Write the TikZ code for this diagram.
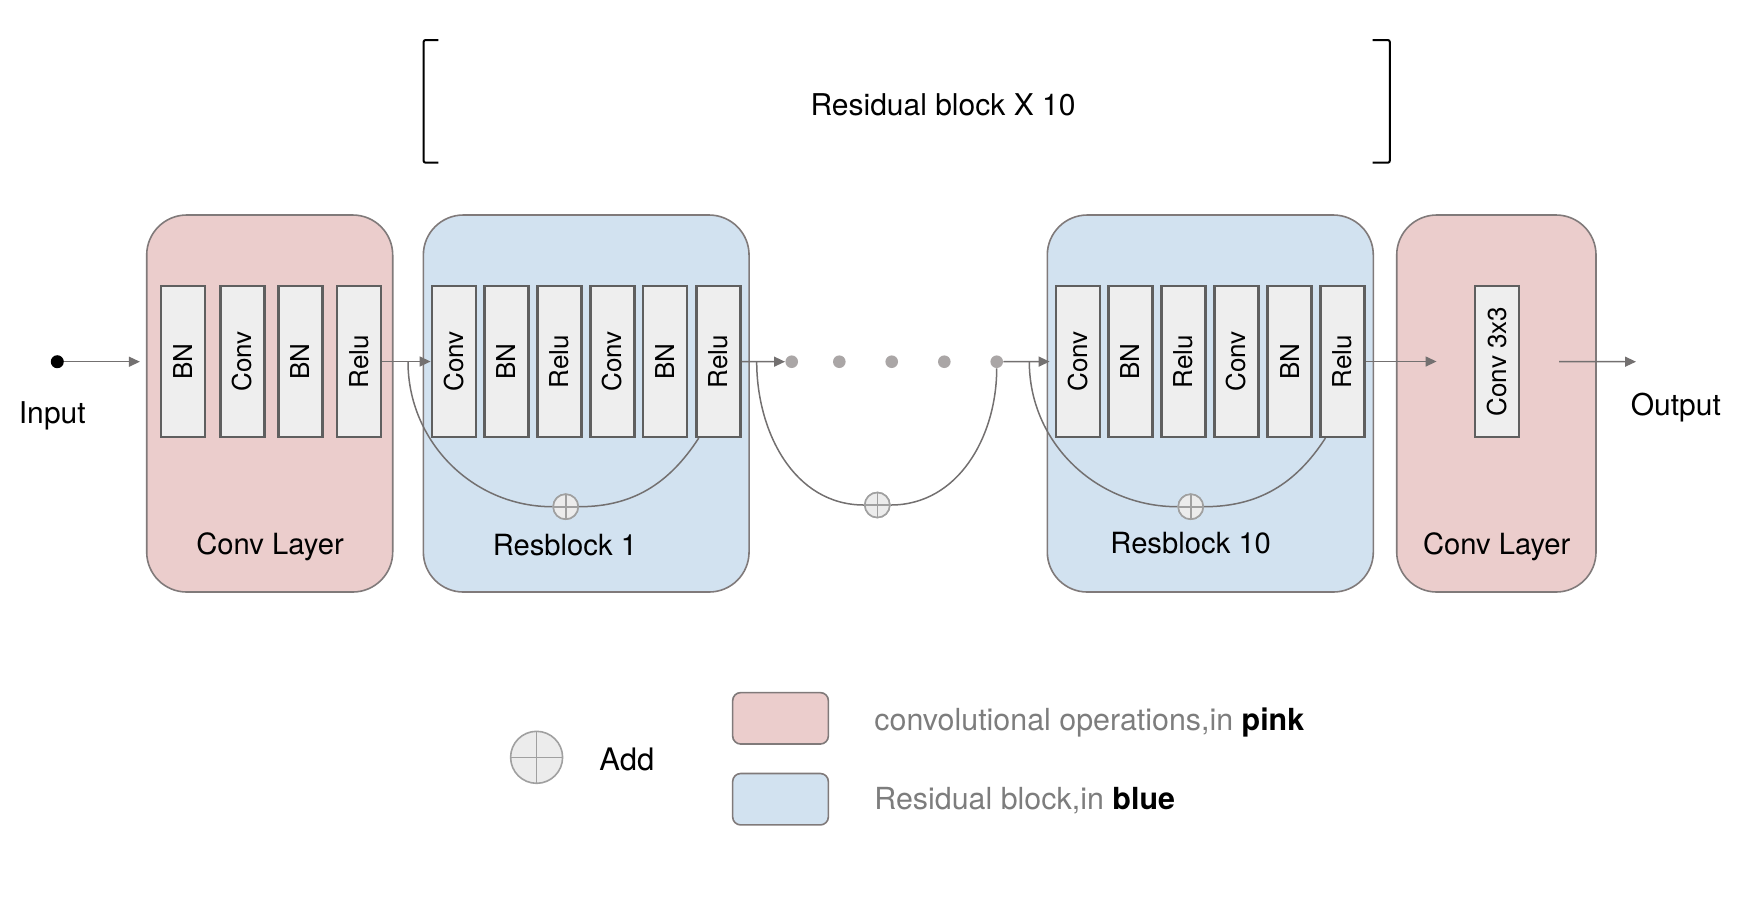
\documentclass[tikz,border=0pt]{standalone}
\usepackage{fontspec}
\setmainfont{TeX Gyre Heros}
\usepackage{graphicx}
\usetikzlibrary{arrows.meta}
\definecolor{pinkfill}{RGB}{235,205,204}
\definecolor{bluefill}{RGB}{210,226,240}
\definecolor{boxline}{RGB}{128,122,122}
\definecolor{opfill}{RGB}{238,238,238}
\definecolor{opline}{RGB}{95,95,95}
\definecolor{arrowcol}{RGB}{115,112,112}
\definecolor{dotcol}{RGB}{170,166,166}
\definecolor{pluscol}{RGB}{160,160,160}
\definecolor{plusfill}{RGB}{236,236,236}
\definecolor{legtext}{RGB}{125,125,125}
\begin{document}
\begin{tikzpicture}[x=0.5pt,y=0.5pt,
  bigbox/.style={draw=boxline, line width=0.8pt, rounded corners=20pt, minimum height=188.5pt, inner sep=0pt},
  pinkbox/.style={bigbox, fill=pinkfill},
  bluebox/.style={bigbox, fill=bluefill},
  opbox/.style={draw=opline, fill=opfill, line width=1.1pt, minimum width=22pt, minimum height=75.5pt, inner sep=0pt, font=\fontsize{13}{15}\selectfont},
  lbl/.style={anchor=base, inner sep=0pt, font=\fontsize{14.6}{17}\selectfont},
  arr/.style={draw=arrowcol, line width=0.7pt, -{Triangle[length=5.5pt,width=5pt]}},
  skipline/.style={draw=arrowcol, line width=0.75pt},
  dotn/.style={circle, fill=dotcol, minimum size=6.3pt, inner sep=0pt},
  addn/.style={circle, draw=pluscol, fill=plusfill, line width=0.8pt, minimum size=12.5pt, inner sep=0pt,
    path picture={\draw[pluscol, line width=0.8pt] (path picture bounding box.north) -- (path picture bounding box.south)
      (path picture bounding box.west) -- (path picture bounding box.east);}},
  legbox/.style={draw=boxline, line width=0.8pt, rounded corners=4pt, minimum width=47.85pt, minimum height=25.7pt, inner sep=0pt},
  bracket/.style={draw=black, line width=1pt, rounded corners=1pt}
]
\useasboundingbox (0,0) rectangle (1764,-902);

% top bracket and title
\draw[bracket] (438.3,-40) -- (423.6,-40) -- (423.6,-162.7) -- (438.3,-162.7);
\draw[bracket] (1372.6,-40) -- (1389.8,-40) -- (1389.8,-162.7) -- (1372.6,-162.7);
\node[lbl, font=\fontsize{15}{18}\selectfont] (title) at (943,-115) {Residual block X 10};

% big boxes
\node[pinkbox, minimum width=123pt] (pk1) at (269.7,-403.5) {};
\node[bluebox, minimum width=162.85pt] (bl1) at (586.2,-403.5) {};
\node[bluebox, minimum width=163pt] (bl10) at (1210.3,-403.5) {};
\node[pinkbox, minimum width=99.65pt] (pk2) at (1496.35,-403.5) {};

% first conv layer
\node[opbox] (a1) at (183.35,-361.5) {\rotatebox{90}{BN}};
\node[opbox] (a2) at (242.5,-361.5) {\rotatebox{90}{Conv}};
\node[opbox] (a3) at (300.5,-361.5) {\rotatebox{90}{BN}};
\node[opbox] (a4) at (359.35,-361.5) {\rotatebox{90}{Relu}};

% resblock 1
\node[opbox] (b1c1) at (453.7,-361.5) {\rotatebox{90}{Conv}};
\node[opbox] (b1c2) at (506.5,-361.5) {\rotatebox{90}{BN}};
\node[opbox] (b1c3) at (559.5,-361.5) {\rotatebox{90}{Relu}};
\node[opbox] (b1c4) at (612.5,-361.5) {\rotatebox{90}{Conv}};
\node[opbox] (b1c5) at (665.35,-361.5) {\rotatebox{90}{BN}};
\node[opbox] (b1c6) at (718.5,-361.5) {\rotatebox{90}{Relu}};

% resblock 10
\node[opbox] (b10c1) at (1077.7,-361.5) {\rotatebox{90}{Conv}};
\node[opbox] (b10c2) at (1130.5,-361.5) {\rotatebox{90}{BN}};
\node[opbox] (b10c3) at (1183.5,-361.5) {\rotatebox{90}{Relu}};
\node[opbox] (b10c4) at (1236.5,-361.5) {\rotatebox{90}{Conv}};
\node[opbox] (b10c5) at (1289.5,-361.5) {\rotatebox{90}{BN}};
\node[opbox] (b10c6) at (1342.5,-361.5) {\rotatebox{90}{Relu}};

% last conv
\node[opbox] (c33) at (1496.65,-361.5) {\rotatebox{90}{Conv 3x3}};

% block labels
\node[lbl] (lpk1) at (270,-554) {Conv Layer};
\node[lbl] (lbl1) at (565,-555) {Resblock 1};
\node[lbl] (lbl10) at (1190.7,-553) {Resblock 10};
\node[lbl] (lpk2) at (1496.7,-554) {Conv Layer};

% input / output
\node[circle, fill=black, minimum size=6.5pt, inner sep=0pt] (indot) at (57.3,-361.7) {};
\node[lbl, font=\fontsize{15}{18}\selectfont] (inlbl) at (52.3,-423) {Input};
\coordinate (outend) at (1636,-361.7);
\node[lbl, font=\fontsize{15}{18}\selectfont] (outlbl) at (1675.8,-415) {Output};

% dots
\node[dotn] (d1) at (791.7,-361.7) {};
\node[dotn] (d2) at (839.3,-361.7) {};
\node[dotn] (d3) at (891.7,-361.7) {};
\node[dotn] (d4) at (944.3,-361.7) {};
\node[dotn] (d5) at (996.7,-361.7) {};

% skip start points
\coordinate (s1) at (408,-361.7);
\coordinate (s2) at (756.7,-361.7);
\coordinate (s3) at (1029.3,-361.7);

% add nodes positions
\coordinate (pp1) at (565.7,-506.7);
\coordinate (pp2) at (877.3,-505);
\coordinate (pp3) at (1190.7,-506.7);
\node[addn] (pl1) at (pp1) {};
\node[addn] (pl2) at (pp2) {};
\node[addn] (pl3) at (pp3) {};

% skip curves
\draw[skipline] (s1) to[out=-90,in=180] (pl1.west);
\draw[skipline] (pl1.east) to[out=0,in=237] ([xshift=1.65pt]b1c6.south west);
\draw[skipline] (s2) to[out=-90,in=180] (pl2.west);
\draw[skipline] (pl2.east) to[out=0,in=-90] (d5);
\draw[skipline] (s3) to[out=-90,in=180] (pl3.west);
\draw[skipline] (pl3.east) to[out=0,in=237] ([xshift=3pt]b10c6.south west);
% redraw add nodes on top
\node[addn] at (pp1) {};
\node[addn] at (pp2) {};
\node[addn] at (pp3) {};

% arrows
\draw[arr, shorten >=3pt] (indot) -- (pk1.west |- indot);
\draw[arr] (a4) -- (b1c1);
\draw[arr] (b1c6) -- (d1);
\draw[arr, shorten >=2.5pt] (d5) -- (b10c1);
\draw[arr, shorten >=18.5pt] (b10c6) -- (c33);
\draw[arr, shorten <=19.7pt] (c33) -- (outend);

% legend
\node[addn, minimum size=26pt] (legadd) at (536.6,-757.3) {};
\node[lbl, anchor=base west, font=\fontsize{15.5}{18}\selectfont] (addlbl) at (599,-770) {Add};
\node[legbox, fill=pinkfill] (legpk) at (780.5,-718.3) {};
\node[legbox, fill=bluefill] (legbl) at (780.5,-799.2) {};
\node[lbl, anchor=base west, font=\fontsize{15.2}{18}\selectfont, text=legtext] (legt1) at (874,-730) {convolutional operations,in \textcolor{black}{\bfseries pink}};
\node[lbl, anchor=base west, font=\fontsize{15.2}{18}\selectfont, text=legtext] (legt2) at (874,-809.5) {Residual block,in \textcolor{black}{\bfseries blue}};
\end{tikzpicture}
\end{document}
